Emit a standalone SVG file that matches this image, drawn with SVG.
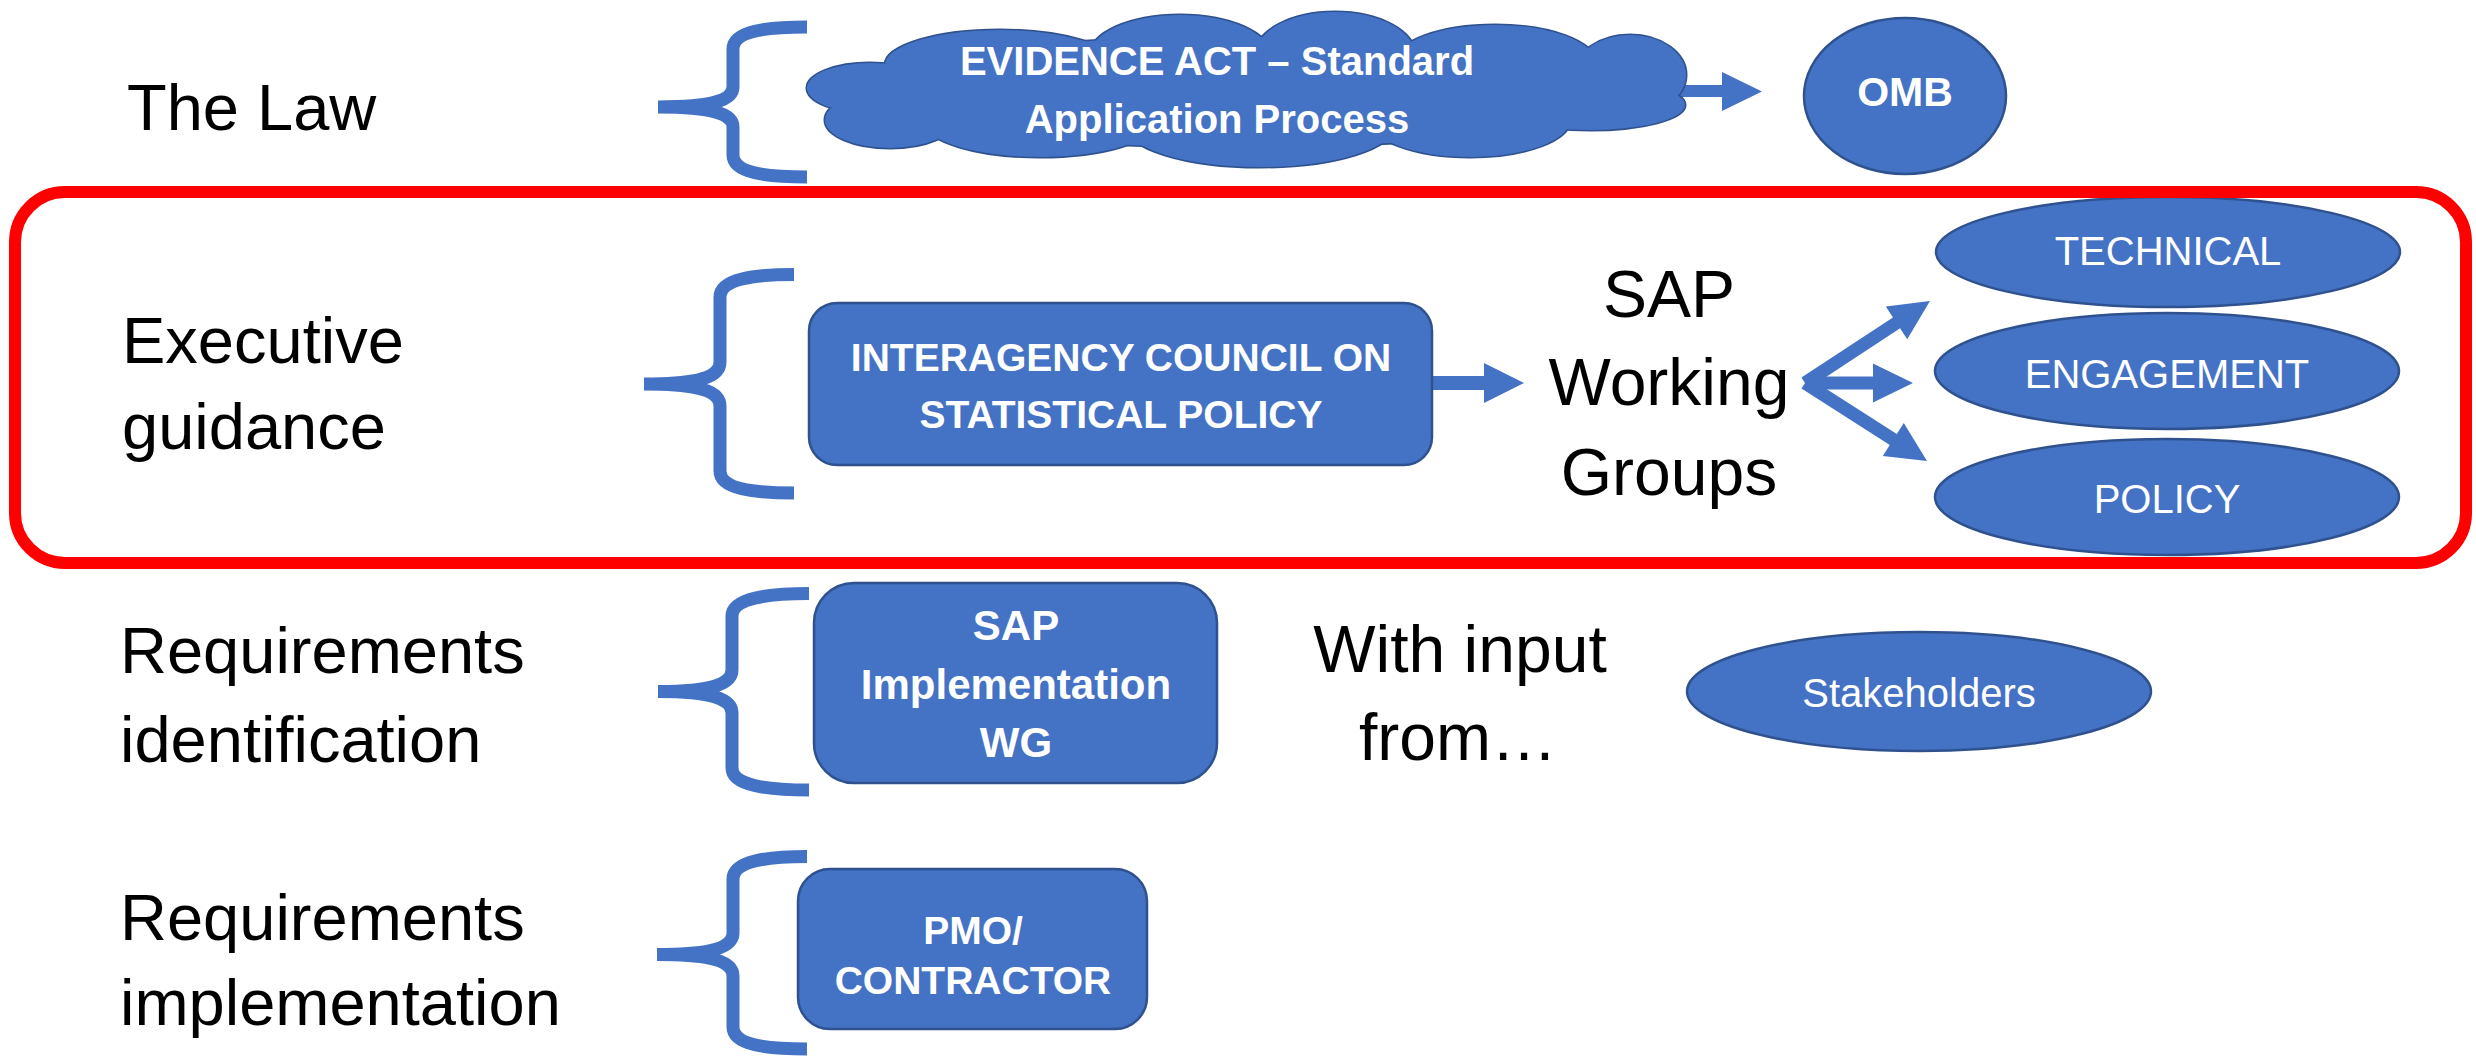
<svg xmlns="http://www.w3.org/2000/svg" xmlns:xlink="http://www.w3.org/1999/xlink" width="2476" height="1059" viewBox="0 0 2476 1059">
  <style>
    .lbl { font-family: "Liberation Sans", Arial, sans-serif; font-size: 65px; fill: #000; }
    .big { font-family: "Liberation Sans", Arial, sans-serif; font-size: 66px; fill: #000; text-anchor: middle; }
    .wb { font-family: "Liberation Sans", Arial, sans-serif; font-weight: bold; fill: #fff; text-anchor: middle; }
    .wr { font-family: "Liberation Sans", Arial, sans-serif; font-size: 40px; fill: #fff; text-anchor: middle; }
    .shape { fill: #4472C4; stroke: #2F528F; stroke-width: 2.5; }
    .brace { fill: none; stroke: #4472C4; stroke-width: 13; stroke-linejoin: bevel; }
    .arrow { fill: #4472C4; stroke: none; }
  </style>
  <defs>
    <g id="cloudShapes">
      <ellipse cx="1000" cy="65" rx="115" ry="35"/>
      <ellipse cx="1180" cy="55" rx="90" ry="40"/>
      <ellipse cx="1335" cy="55" rx="80" ry="43"/>
      <ellipse cx="1495" cy="62" rx="100" ry="37"/>
      <ellipse cx="1630" cy="75" rx="56" ry="40"/>
      <ellipse cx="1590" cy="105" rx="95" ry="25"/>
      <ellipse cx="1470" cy="120" rx="100" ry="37"/>
      <ellipse cx="1260" cy="125" rx="135" ry="42"/>
      <ellipse cx="1040" cy="122" rx="115" ry="35"/>
      <ellipse cx="890" cy="120" rx="65" ry="28"/>
      <ellipse cx="870" cy="88" rx="63" ry="25"/>
      <ellipse cx="1240" cy="92" rx="400" ry="55"/>
    </g>
  </defs>
  <rect width="2476" height="1059" fill="#fff"/>

  <g id="connectors">
    <polygon class="arrow" points="1670,85 1722,85 1722,72 1762,91.5 1722,111 1722,97 1670,97"/>
    <polygon class="arrow" points="1432,376 1484,376 1484,363 1524,383 1484,403 1484,390 1432,390"/>
    <g transform="translate(1805,383) rotate(-33.3)">
      <polygon class="arrow" points="0,-6.5 109.5,-6.5 109.5,-19.5 149.5,0 109.5,19.5 109.5,6.5 0,6.5"/>
    </g>
    <g transform="translate(1805,383)">
      <polygon class="arrow" points="0,-6.5 68,-6.5 68,-19.5 108,0 68,19.5 68,6.5 0,6.5"/>
    </g>
    <g transform="translate(1805,383) rotate(32.6)">
      <polygon class="arrow" points="0,-6.5 104.8,-6.5 104.8,-19.5 144.8,0 104.8,19.5 104.8,6.5 0,6.5"/>
    </g>
  </g>

  <g id="labels">
    <text class="lbl" x="127" y="130">The Law</text>
    <text class="lbl" x="122" y="363">Executive</text>
    <text class="lbl" x="122" y="449">guidance</text>
    <text class="lbl" x="120" y="673">Requirements</text>
    <text class="lbl" x="120" y="762">identification</text>
    <text class="lbl" x="120" y="940">Requirements</text>
    <text class="lbl" x="120" y="1025">implementation</text>
  </g>

  <g id="braces">
    <path class="brace" d="M807,27 C767,27 733,31 733,49 L733,87 C733,100 713,107 658,107 C713,107 733,114 733,127 L733,155 C733,173 767,177 807,177"/>
    <path class="brace" d="M794,274.5 C754,274.5 720,279 720,297 L720,362 C720,377 700,384 644,384 C700,384 720,391 720,406 L720,471 C720,489 754,493 794,493"/>
    <path class="brace" d="M809,593.5 C769,593.5 732,598 732,616 L732,670 C732,684 712,691.5 658,691.5 C712,691.5 732,699 732,713 L732,768 C732,786 769,790 809,790"/>
    <path class="brace" d="M807,856.5 C767,856.5 733,861 733,879 L733,933 C733,947 713,954.5 657,954.5 C713,954.5 733,962 733,976 L733,1027 C733,1045 767,1049 807,1049"/>
  </g>

  <g id="node-cloud">
    <use xlink:href="#cloudShapes" fill="#4472C4" stroke="#2F528F" stroke-width="3"/>
    <use xlink:href="#cloudShapes" fill="#4472C4" stroke="none"/>
    <text class="wb" x="1217" y="75" font-size="40">EVIDENCE ACT – Standard</text>
    <text class="wb" x="1217" y="133" font-size="40">Application Process</text>
  </g>

  <g id="node-omb">
    <ellipse class="shape" cx="1905" cy="96" rx="101" ry="78"/>
    <text class="wb" x="1905" y="106" font-size="41">OMB</text>
  </g>

  <g id="node-icsp">
    <rect class="shape" x="809" y="303" width="623" height="162" rx="28" ry="28"/>
    <text class="wb" x="1121" y="371" font-size="39">INTERAGENCY COUNCIL ON</text>
    <text class="wb" x="1121" y="428" font-size="39">STATISTICAL POLICY</text>
  </g>

  <g id="node-sapwg">
    <text class="big" x="1669" y="317">SAP</text>
    <text class="big" x="1669" y="405">Working</text>
    <text class="big" x="1669" y="495">Groups</text>
  </g>

  <g id="node-technical">
    <ellipse class="shape" cx="2168" cy="252" rx="232" ry="55"/>
    <text class="wr" x="2168" y="265">TECHNICAL</text>
  </g>
  <g id="node-engagement">
    <ellipse class="shape" cx="2167" cy="371" rx="232" ry="58"/>
    <text class="wr" x="2167" y="388">ENGAGEMENT</text>
  </g>
  <g id="node-policy">
    <ellipse class="shape" cx="2167" cy="497" rx="232" ry="58"/>
    <text class="wr" x="2167" y="513">POLICY</text>
  </g>

  <g id="node-sapimpl">
    <rect class="shape" x="814" y="583" width="403" height="200" rx="40" ry="40"/>
    <text class="wb" x="1016" y="640" font-size="42">SAP</text>
    <text class="wb" x="1016" y="699" font-size="42">Implementation</text>
    <text class="wb" x="1016" y="757" font-size="42">WG</text>
  </g>

  <g id="node-withinput">
    <text class="big" x="1460" y="672">With input</text>
    <text class="big" x="1458" y="760">from…</text>
  </g>

  <g id="node-stakeholders">
    <ellipse class="shape" cx="1919" cy="691.5" rx="232" ry="59.5"/>
    <text class="wr" x="1919" y="707" font-size="42">Stakeholders</text>
  </g>

  <g id="node-pmo">
    <rect class="shape" x="798" y="869" width="349" height="160" rx="32" ry="32"/>
    <text class="wb" x="973" y="944" font-size="39">PMO/</text>
    <text class="wb" x="973" y="994" font-size="39">CONTRACTOR</text>
  </g>

  <g id="highlight">
    <rect x="15" y="192" width="2451" height="371" rx="50" ry="50" fill="none" stroke="#FF0000" stroke-width="12"/>
  </g>
</svg>
